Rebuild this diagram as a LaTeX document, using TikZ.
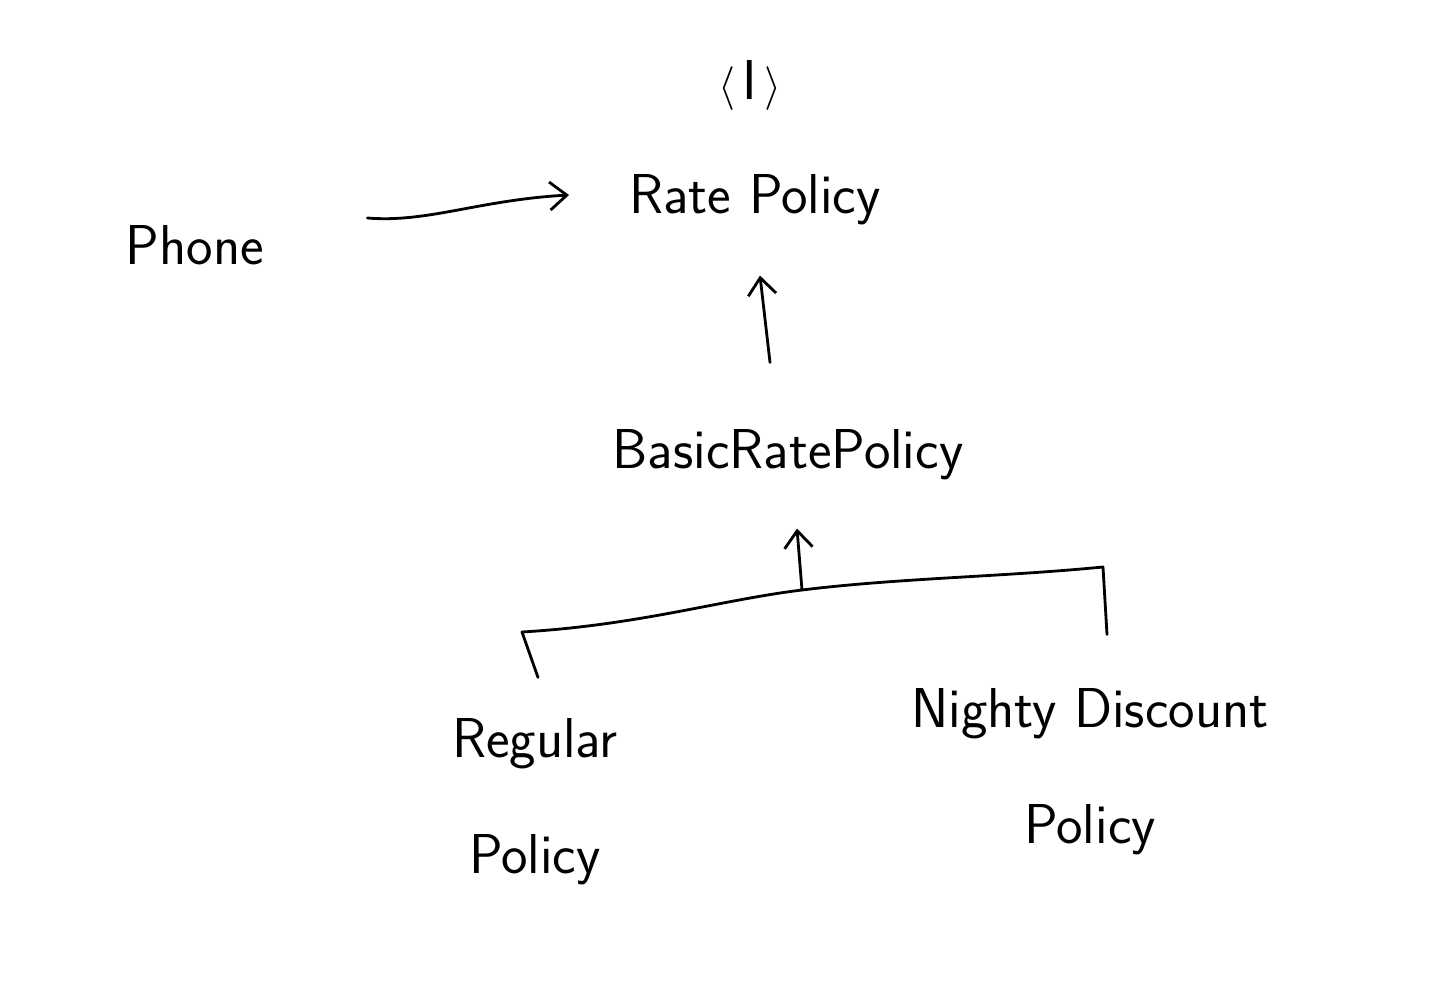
\documentclass[tikz,border=0pt]{standalone}
\usetikzlibrary{arrows.meta,calc}
\tikzset{
  lbl/.style={inner sep=0pt,font=\sffamily\fontsize{32}{66}\selectfont,align=center},
  stroke/.style={line width=1.6pt,line cap=round,line join=round},
  arr/.style={stroke,-{Straight Barb[length=3.4mm,width=5.6mm]}},
}
\begin{document}
\begin{tikzpicture}[x=0.2mm,y=-0.2mm]
\useasboundingbox (0,0) rectangle (1436,1000);
\node[lbl] (iface) at (750,85) {$\langle\,$I$\,\rangle$};
\node[lbl] (rate) at (755,200) {Rate Policy};
\node[lbl] (phone) at (195,245) {Phone};
\node[lbl] (basic) at (788,455) {BasicRatePolicy};
\node[lbl] (regular) at (535,802) {Regular\\Policy};
\node[lbl] (nighty) at (1090,772) {Nighty Discount\\Policy};
% bar joining the two subclasses
\coordinate (barL) at (522,632);
\coordinate (barM) at (802,590);
\coordinate (barR) at (1103,567);
\draw[arr] ($(phone.east)+(103,-27)$) .. controls +(60,5) and +(-90,5) .. ($(rate.west)+(-60,-5)$);
\draw[arr] ($(basic.north)+(-18,-67)$) -- ($(rate.south)+(5,50)$);
\draw[stroke] ($(regular.north)+(3,-41)$) -- (barL)
  .. controls (640,625) and (720,600) .. (barM)
  .. controls (900,578) and (1000,577) .. (barR)
  -- ($(nighty.north)+(17,-54)$);
\draw[arr] (barM) -- ($(basic.south)+(9,48)$);
\end{tikzpicture}
\end{document}
